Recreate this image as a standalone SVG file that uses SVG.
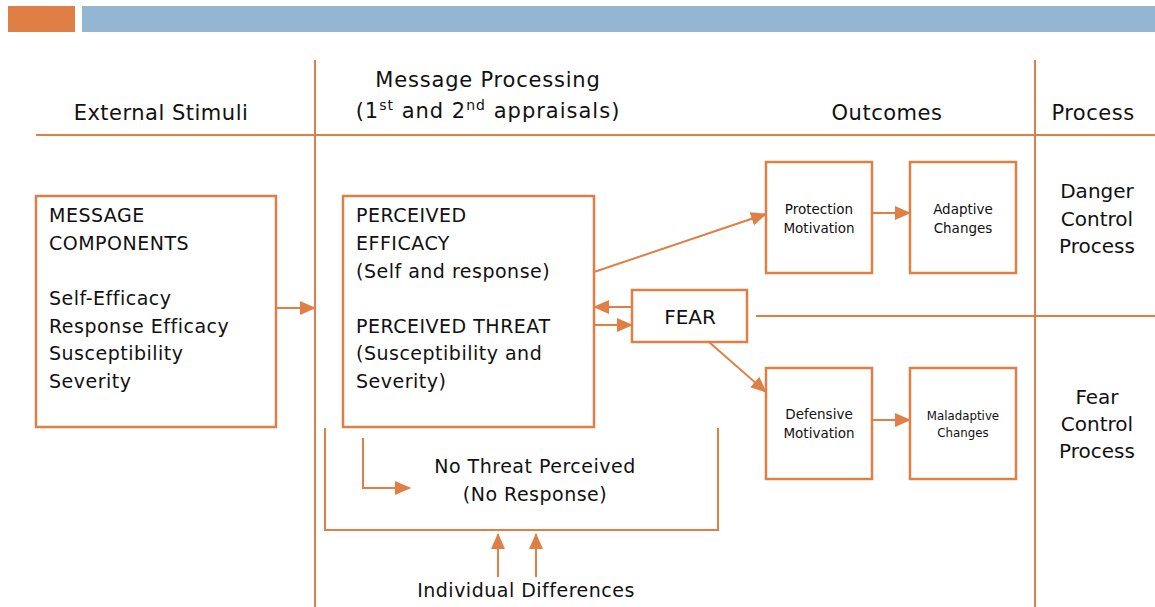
<svg xmlns="http://www.w3.org/2000/svg" width="1155" height="607" viewBox="0 0 1155 607">
<style>
.ln{stroke:#E07F45;stroke-width:2;fill:none}
.bx{stroke:#E07F45;stroke-width:2.5;fill:#fff}
.t{font-family:"DejaVu Sans",sans-serif;fill:#111}
.h{font-size:21px;letter-spacing:0.5px}
.p{font-size:20px}
.m{font-size:19px;letter-spacing:0.5px}
.s{font-size:13.5px}
.xs{font-size:11.8px}
</style>
<defs>
<marker id="ah" markerUnits="userSpaceOnUse" markerWidth="16" markerHeight="14" refX="15" refY="7" orient="auto">
<path d="M0,0 L16,7 L0,14 Z" fill="#E07F45"/>
</marker>
</defs>
<rect x="8" y="6" width="67" height="26" fill="#E07F45"/>
<rect x="82" y="6" width="1073" height="26" fill="#94B6D2"/>
<g id="grid">
<line class="ln" x1="36" y1="135" x2="1155" y2="135"/>
<line class="ln" x1="315" y1="60" x2="315" y2="607"/>
<line class="ln" x1="1035" y1="60" x2="1035" y2="607"/>
<line class="ln" x1="756" y1="316" x2="1155" y2="316"/>
</g>
<g id="headers" class="t h" text-anchor="middle">
<text x="161" y="120">External Stimuli</text>
<text x="488" y="87" style="letter-spacing:0.8px">Message Processing</text>
<text x="488" y="118" style="letter-spacing:1px">(1<tspan font-size="14" dy="-8">st</tspan><tspan dy="8"> and 2</tspan><tspan font-size="14" dy="-8">nd</tspan><tspan dy="8"> appraisals)</tspan></text>
<text x="887" y="120">Outcomes</text>
<text x="1093" y="120">Process</text>
</g>
<g id="connectors">
<line class="ln" x1="276" y1="308" x2="315" y2="308" marker-end="url(#ah)"/>
<line class="ln" x1="594" y1="272" x2="766" y2="214" marker-end="url(#ah)"/>
<line class="ln" x1="872" y1="213" x2="910" y2="213" marker-end="url(#ah)"/>
<line class="ln" x1="632" y1="307" x2="594" y2="307" marker-end="url(#ah)"/>
<line class="ln" x1="594" y1="325" x2="632" y2="325" marker-end="url(#ah)"/>
<line class="ln" x1="709" y1="342" x2="766" y2="392" marker-end="url(#ah)"/>
<line class="ln" x1="872" y1="420" x2="910" y2="420" marker-end="url(#ah)"/>
<polyline class="ln" points="325,428 325,530 718,530 718,428"/>
<polyline class="ln" points="363,438 363,488 410,488" marker-end="url(#ah)"/>
<line class="ln" x1="498" y1="577" x2="498" y2="534" marker-end="url(#ah)"/>
<line class="ln" x1="536" y1="577" x2="536" y2="534" marker-end="url(#ah)"/>
</g>
<g id="message-components">
<rect class="bx" x="36" y="196" width="240" height="231"/>
<text class="t m" x="49" y="222">MESSAGE</text>
<text class="t m" x="49" y="250">COMPONENTS</text>
<text class="t m" x="49" y="305">Self-Efficacy</text>
<text class="t m" x="49" y="333">Response Efficacy</text>
<text class="t m" x="49" y="360">Susceptibility</text>
<text class="t m" x="49" y="388">Severity</text>
</g>
<g id="perceived">
<rect class="bx" x="343" y="196" width="251" height="231"/>
<text class="t m" x="356" y="222">PERCEIVED</text>
<text class="t m" x="356" y="250">EFFICACY</text>
<text class="t m" x="356" y="278">(Self and response)</text>
<text class="t m" x="356" y="333">PERCEIVED THREAT</text>
<text class="t m" x="356" y="360">(Susceptibility and</text>
<text class="t m" x="356" y="388">Severity)</text>
</g>
<g id="fear">
<rect class="bx" x="632" y="290" width="115" height="52"/>
<text class="t p" x="690" y="324" text-anchor="middle">FEAR</text>
</g>
<g id="protection">
<rect class="bx" x="766" y="162" width="106" height="111"/>
<text class="t s" x="819" y="214" text-anchor="middle">Protection</text>
<text class="t s" x="819" y="233" text-anchor="middle">Motivation</text>
</g>
<g id="adaptive">
<rect class="bx" x="910" y="162" width="106" height="111"/>
<text class="t s" x="963" y="214" text-anchor="middle">Adaptive</text>
<text class="t s" x="963" y="233" text-anchor="middle">Changes</text>
</g>
<g id="defensive">
<rect class="bx" x="766" y="368" width="106" height="111"/>
<text class="t s" x="819" y="419" text-anchor="middle">Defensive</text>
<text class="t s" x="819" y="438" text-anchor="middle">Motivation</text>
</g>
<g id="maladaptive">
<rect class="bx" x="910" y="368" width="106" height="111"/>
<text class="t xs" x="963" y="420" text-anchor="middle">Maladaptive</text>
<text class="t xs" x="963" y="437" text-anchor="middle">Changes</text>
</g>
<g id="no-threat" class="t m" text-anchor="middle">
<text x="535" y="473">No Threat Perceived</text>
<text x="535" y="501">(No Response)</text>
</g>
<g id="individual">
<text class="t m" x="526" y="597" text-anchor="middle">Individual Differences</text>
</g>
<g id="process-labels" class="t p" text-anchor="middle">
<text x="1097" y="198">Danger</text>
<text x="1097" y="226">Control</text>
<text x="1097" y="253">Process</text>
<text x="1097" y="404">Fear</text>
<text x="1097" y="431">Control</text>
<text x="1097" y="458">Process</text>
</g>
</svg>
